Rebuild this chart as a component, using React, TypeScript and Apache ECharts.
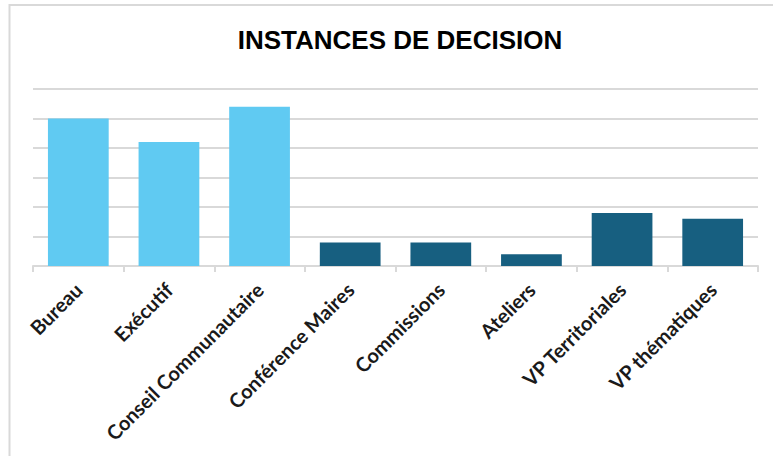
import React, { useEffect, useRef } from "react";
import * as echarts from "echarts";

const categories = [
  "Bureau",
  "Exécutif",
  "Conseil Communautaire",
  "Conférence Maires",
  "Commissions",
  "Ateliers",
  "VP Territoriales",
  "VP thématiques",
];
const values = [25, 21, 27, 4, 4, 2, 9, 8];
const titleText = "INSTANCES DE DECISION";

const LIGHT = "#60CAF2";
const DARK = "#175F80";

export default function App() {
  const ref = useRef<HTMLDivElement>(null);
  useEffect(() => {
    const chart = echarts.init(ref.current!, null, { renderer: "svg" });
    chart.setOption({
      animation: false,
      backgroundColor: "#ffffff",
      title: {
        text: titleText,
        left: 395,
        top: 22,
        textAlign: "center",
        textStyle: {
          fontFamily: "'Liberation Sans Narrow', 'Liberation Sans', Arial, sans-serif",
          fontWeight: "bold",
          fontSize: 26,
          color: "#000000",
        },
      },
      graphic: [
        {
          type: "rect",
          shape: { x: 9.5, y: 5, width: 900, height: 600 },
          style: { fill: "none", stroke: "#d9d9d9", lineWidth: 2 },
          silent: true,
        },
      ],
      grid: { left: 33, right: 15, top: 89, bottom: 190, containLabel: false },
      xAxis: {
        type: "category",
        data: categories,
        axisLine: { show: true, lineStyle: { color: "#d9d9d9", width: 2 } },
        axisTick: { show: true, length: 6, lineStyle: { color: "#d9d9d9", width: 2 } },
        axisLabel: {
          rotate: 45,
          interval: 0,
          margin: 20,
          fontFamily: "Lato, 'Open Sans', sans-serif",
          fontWeight: "bold",
          fontSize: 20,
          color: "#1a1a1a",
        },
      },
      yAxis: {
        type: "value",
        min: 0,
        max: 30,
        interval: 5,
        axisLabel: { show: false },
        axisLine: { show: false },
        axisTick: { show: false },
        splitLine: { lineStyle: { color: "#d9d9d9", width: 2 } },
      },
      series: [
        {
          type: "bar",
          data: values,
          barCategoryGap: "33%",
          itemStyle: {
            color: (p: any) => (p.dataIndex < 3 ? LIGHT : DARK),
          },
        },
      ],
    });
    return () => chart.dispose();
  }, []);
  return (
    <div
      ref={ref}
      style={{ position: "fixed", left: 0, top: 0, width: 773, height: 456 }}
    />
  );
}
